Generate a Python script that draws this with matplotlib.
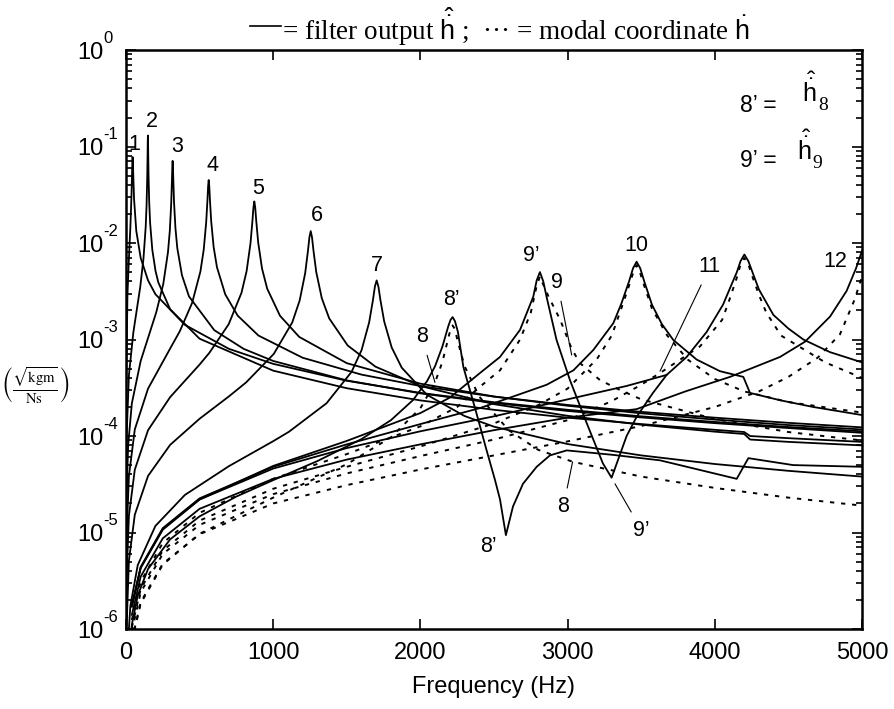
import matplotlib
matplotlib.use('Agg')
import matplotlib.pyplot as plt
from matplotlib.lines import Line2D
from matplotlib.ticker import FixedLocator, LogLocator, NullFormatter

# ---- data (frequency in Hz, magnitude) ----
# solid = filter output, dotted = modal coordinate
f_m1 = [1, 10, 20, 30, 38, 42, 45, 48, 55, 70, 100, 150, 200, 400, 700, 1000, 1500, 2000, 2500, 3000, 3500, 4000, 4500, 5000]
h_m1 = [2.77e-4, 2.9e-3, 6.9e-3, 1.47e-2, 3.31e-2, 5.89e-2, 7.78e-2, 6.05e-2, 2.86e-2, 1.34e-2, 7.0e-3, 4.1e-3, 2.95e-3,
        1.42e-3, 8.0e-4, 5.6e-4, 3.74e-4, 2.8e-4, 2.24e-4, 1.87e-4, 1.6e-4, 1.4e-4, 1.24e-4, 1.12e-4]

f_m2 = [1, 5, 20, 50, 97, 119, 134, 140, 144.5, 146.8, 148, 149, 150, 151.2, 153.5, 158, 164, 179, 201, 220, 300, 500,
        1000, 1500, 2000, 2500, 3000, 3500, 4000, 4200, 4240, 4500, 5000]
h_m2 = [2.1e-5, 1.05e-4, 4.27e-4, 1.18e-3, 3.51e-3, 6.93e-3, 1.468e-2, 2.47e-2, 4.76e-2, 8.08e-2, 0.112, 0.130, 0.112,
        8.16e-2, 4.89e-2, 2.62e-2, 1.62e-2, 8.49e-3, 5.12e-3, 3.9e-3, 2.06e-3, 1.02e-3, 4.76e-4, 3.13e-4, 2.34e-4,
        1.87e-4, 1.55e-4, 1.33e-4, 1.16e-4, 1.1e-4, 1.0e-4, 9.5e-5, 8.7e-5]

f_m3 = [1, 5, 15, 40, 100, 206, 253.6, 285.3, 298, 307.5, 312.2, 314.8, 317, 319.2, 321.8, 326.5, 336, 348.7, 380.4,
        428, 600, 800, 1000, 1500, 2000, 2500, 3000, 3500, 4000, 4500, 5000]
h_m3 = [5.4e-6, 2.7e-5, 8.1e-5, 2.18e-4, 6.0e-4, 1.92e-3, 3.78e-3, 8.02e-3, 1.349e-2, 2.60e-2, 4.41e-2, 6.13e-2, 7.1e-2,
        6.13e-2, 4.46e-2, 2.67e-2, 1.43e-2, 8.85e-3, 4.64e-3, 2.80e-3, 1.25e-3, 8.0e-4, 6.0e-4, 3.77e-4, 2.77e-4,
        2.2e-4, 1.82e-4, 1.56e-4, 1.36e-4, 1.21e-4, 1.08e-4]

f_m4 = [0.5, 5, 20, 60, 150, 300, 365.3, 449.6, 505.8, 528.3, 545.1, 553.6, 558.1, 562, 565.9, 570.4, 578.9, 595.7,
        618.2, 674.4, 758.7, 900, 1200, 1600, 2000, 2500, 3000, 3500, 4000, 4500, 5000]
h_m4 = [9.6e-7, 9.6e-6, 3.85e-5, 1.17e-4, 3.1e-4, 8.06e-4, 1.215e-3, 2.40e-3, 5.08e-3, 8.55e-3, 1.649e-2, 2.80e-2,
        3.88e-2, 4.5e-2, 3.89e-2, 2.82e-2, 1.69e-2, 9.07e-3, 5.61e-3, 2.94e-3, 1.77e-3, 1.1e-3, 6.48e-4, 4.33e-4,
        3.3e-4, 2.56e-4, 2.1e-4, 1.78e-4, 1.55e-4, 1.37e-4, 1.23e-4]

f_m5 = [1, 5, 20, 60, 150, 300, 500, 566.8, 697.6, 784.8, 819.7, 845.8, 858.9, 865.9, 872, 878.1, 885.1, 898.2, 924.3,
        959.2, 1046.4, 1177.2, 1500, 2000, 2500, 3000, 3500, 4000, 4500, 5000]
h_m5 = [7.4e-7, 3.7e-6, 1.49e-5, 4.48e-5, 1.15e-4, 2.53e-4, 5.5e-4, 7.29e-4, 1.44e-3, 3.05e-3, 5.13e-3, 9.90e-3,
        1.679e-2, 2.33e-2, 2.7e-2, 2.33e-2, 1.694e-2, 1.015e-2, 5.44e-3, 3.37e-3, 1.763e-3, 1.064e-3, 5.69e-4,
        3.49e-4, 2.57e-4, 2.06e-4, 1.72e-4, 1.48e-4, 1.3e-4, 1.17e-4]

f_m6 = [4, 20, 60, 150, 300, 500, 700, 815.8, 1004, 1129.5, 1179.7, 1217.4, 1236.2, 1246.2, 1255, 1263.8, 1273.8,
        1292.7, 1330.3, 1380.5, 1506, 1694.3, 2000, 2500, 3000, 3500, 4000, 4200, 4240, 4500, 5000]
h_m6 = [1.0e-6, 5.1e-6, 1.53e-5, 3.86e-5, 8.1e-5, 1.51e-4, 2.58e-4, 3.59e-4, 7.09e-4, 1.502e-3, 2.53e-3, 4.87e-3,
        8.27e-3, 1.148e-2, 1.33e-2, 1.149e-2, 8.35e-3, 5.0e-3, 2.68e-3, 1.658e-3, 8.68e-4, 5.24e-4, 3.3e-4, 2.14e-4,
        1.62e-4, 1.31e-4, 1.11e-4, 1.05e-4, 9.2e-5, 8.7e-5, 8.0e-5]

f_m7 = [10, 30, 80, 200, 400, 700, 1000, 1107, 1362.4, 1532.7, 1600.8, 1651.9, 1677.5, 1691.1, 1703, 1714.9, 1728.5,
        1754.1, 1805.2, 1873.3, 2043.6, 2299, 2500, 3000, 3500, 4000, 4500, 5000]
h_m7 = [5.8e-7, 1.74e-6, 4.6e-6, 1.17e-5, 2.45e-5, 4.88e-5, 8.84e-5, 1.107e-4, 2.185e-4, 4.63e-4, 7.79e-4, 1.503e-3,
        2.55e-3, 3.54e-3, 4.1e-3, 3.54e-3, 2.57e-3, 1.542e-3, 8.27e-4, 5.11e-4, 2.68e-4, 1.615e-4, 1.25e-4, 8.26e-5,
        6.3e-5, 5.13e-5, 4.36e-5, 3.8e-5]

f_m8f = [20, 40, 80, 150, 300, 500, 750, 1000, 1300, 1600, 1800, 1950, 2045, 2100, 2150, 2190, 2205, 2219, 2235, 2255,
         2292, 2382, 2450, 2507, 2541, 2581, 2629, 2697, 2790, 2880, 2994, 3300, 3628, 4149, 4228, 4532, 5000]
h_m8f = [5.6e-7, 1.11e-6, 2.23e-6, 4.19e-6, 8.5e-6, 1.47e-5, 2.36e-5, 3.49e-5, 5.5e-5, 9.3e-5, 1.46e-4, 2.36e-4,
         3.7e-4, 5.3e-4, 8.5e-4, 1.38e-3, 1.6e-3, 1.71e-3, 1.55e-3, 1.2e-3, 5.2e-4, 1.7e-4, 7.1e-5, 3.5e-5, 2.2e-5,
         9.4e-6, 1.86e-5, 3.2e-5, 4.8e-5, 6.3e-5, 7.1e-5, 6.4e-5, 5.6e-5, 3.6e-5, 5.9e-5, 5.0e-5, 4.8e-5]

f_m9f = [40, 100, 250, 500, 1000, 1500, 2000, 2200, 2405, 2541, 2677, 2767, 2790, 2812, 2835, 2857, 2925, 3016, 3130,
         3240, 3299, 3334, 3401, 3469, 3580, 3673]
h_m9f = [1.7e-6, 4.3e-6, 1.07e-5, 2.2e-5, 4.9e-5, 8.9e-5, 1.73e-4, 2.5e-4, 4.5e-4, 6.6e-4, 1.26e-3, 2.78e-3, 4.1e-3,
         5.0e-3, 4.0e-3, 2.78e-3, 9.9e-4, 3.8e-4, 1.36e-4, 5.2e-5, 3.7e-5, 5.2e-5, 1.0e-4, 1.58e-4, 2.8e-4, 4.3e-4]

f_m10f = [40, 100, 250, 500, 1000, 1500, 2000, 2405, 2631, 2858, 3040, 3175, 3311, 3365, 3417, 3445, 3469, 3493, 3521,
          3573, 3640, 3718, 3877, 4035, 4194, 4239, 4443, 4669, 5000]
h_m10f = [1.77e-6, 4.4e-6, 1.11e-5, 2.26e-5, 4.8e-5, 8.2e-5, 1.33e-4, 1.95e-4, 2.57e-4, 3.4e-4, 4.8e-4, 7.8e-4,
          1.48e-3, 2.35e-3, 3.98e-3, 5.5e-3, 6.4e-3, 5.5e-3, 4.0e-3, 2.3e-3, 1.45e-3, 9.9e-4, 6.2e-4, 4.7e-4, 4.1e-4,
          2.8e-4, 2.35e-4, 2.0e-4, 1.65e-4]

f_m11f = [40, 100, 250, 500, 1000, 1500, 2000, 2500, 3000, 3400, 3673, 3809, 3945, 4056, 4110, 4150, 4175, 4201, 4228,
          4260, 4300, 4398, 4500, 4602, 4783, 5000]
h_m11f = [1.74e-6, 4.3e-6, 1.09e-5, 2.2e-5, 4.6e-5, 7.5e-5, 1.12e-4, 1.6e-4, 2.4e-4, 3.3e-4, 4.3e-4, 6.6e-4, 1.2e-3,
          2.3e-3, 3.6e-3, 5.0e-3, 6.5e-3, 7.6e-3, 6.5e-3, 4.8e-3, 3.3e-3, 1.8e-3, 1.3e-3, 1.0e-3, 7.4e-4, 5.8e-4]

f_m12f = [40, 100, 250, 500, 1000, 1500, 2000, 2500, 3000, 3469, 3800, 4103, 4443, 4613, 4783, 4896, 4960, 5000]
h_m12f = [1.4e-6, 3.5e-6, 8.7e-6, 1.76e-5, 3.6e-5, 5.7e-5, 8.2e-5, 1.15e-4, 1.55e-4, 1.9e-4, 2.9e-4, 4.1e-4, 6.6e-4,
          9.5e-4, 1.73e-3, 3.2e-3, 5.5e-3, 8.3e-3]

# modal coordinates (dotted)
f_m8 = [40, 100, 250, 500, 1000, 1500, 1800, 2000, 2100, 2150, 2190, 2205, 2219, 2235, 2250, 2300, 2400, 2600, 2800,
        3037, 3500, 4000, 4500, 5000]
h_m8 = [7.4e-7, 1.84e-6, 4.65e-6, 9.7e-6, 2.3e-5, 5.1e-5, 9.7e-5, 1.94e-4, 3.6e-4, 5.9e-4, 1.04e-3, 1.28e-3, 1.4e-3,
        1.28e-3, 1.01e-3, 5.3e-4, 2.56e-4, 1.15e-4, 7.2e-5, 5.4e-5, 3.8e-5, 2.9e-5, 2.3e-5, 1.9e-5]

f_m9 = [40, 100, 250, 500, 1000, 1500, 2000, 2250, 2400, 2541, 2677, 2750, 2790, 2812, 2835, 2870, 2950, 3028, 3084,
        3220, 3356, 3500, 4000, 4500, 5000]
h_m9 = [1.24e-6, 3.1e-6, 7.8e-6, 1.6e-5, 3.6e-5, 6.5e-5, 1.26e-4, 2.0e-4, 3.2e-4, 4.8e-4, 1.0e-3, 1.9e-3, 3.6e-3,
        4.5e-3, 3.7e-3, 2.8e-3, 1.6e-3, 8.0e-4, 5.7e-4, 3.8e-4, 3.0e-4, 2.4e-4, 1.5e-4, 1.1e-4, 9.0e-5]

f_m10 = [40, 100, 250, 500, 1000, 1500, 2000, 2500, 2800, 3000, 3200, 3300, 3365, 3417, 3445, 3469, 3493, 3521, 3573,
         3677, 3816, 4000, 4200, 4500, 5000]
h_m10 = [1.04e-6, 2.6e-6, 6.5e-6, 1.33e-5, 2.84e-5, 4.8e-5, 7.8e-5, 1.35e-4, 2.09e-4, 3.1e-4, 6.3e-4, 1.1e-3, 2.1e-3,
         3.6e-3, 4.9e-3, 5.9e-3, 4.9e-3, 3.6e-3, 2.1e-3, 1.1e-3, 6.2e-4, 3.9e-4, 2.9e-4, 2.25e-4, 1.75e-4]

f_m11 = [40, 100, 250, 500, 1000, 1500, 2000, 2500, 3000, 3300, 3500, 3628, 3900, 4050, 4100, 4150, 4175, 4201, 4228,
         4260, 4300, 4350, 4450, 4750, 5000]
h_m11 = [9.5e-7, 2.4e-6, 6.0e-6, 1.2e-5, 2.5e-5, 4.1e-5, 6.2e-5, 9.2e-5, 1.46e-4, 2.3e-4, 3.4e-4, 4.5e-4, 8.5e-4,
         1.6e-3, 2.6e-3, 4.4e-3, 6.0e-3, 7.0e-3, 6.0e-3, 4.3e-3, 2.9e-3, 1.9e-3, 1.1e-3, 5.8e-4, 4.0e-4]

f_m12 = [40, 100, 250, 500, 1000, 1500, 2000, 2500, 3000, 3500, 4000, 4300, 4500, 4700, 4850, 4950, 5000]
h_m12 = [7.6e-7, 1.9e-6, 4.75e-6, 9.6e-6, 2.0e-5, 3.1e-5, 4.5e-5, 6.3e-5, 8.8e-5, 1.27e-4, 2.0e-4, 2.9e-4, 4.1e-4,
         6.5e-4, 1.13e-3, 2.6e-3, 4.5e-3]

# peak labels: text, frequency, magnitude
peak_labels = ['1', '2', '3', '4', '5', '6', '7', '8\u2019', '9\u2019', '10', '12', '8\u2019']
peak_label_f = [57, 174, 349, 589, 899, 1295, 1703, 2212, 2756, 3465, 4817, 2461]
peak_label_h = [0.106, 0.181, 0.0995, 0.0643, 0.0369, 0.0195, 5.9e-3, 2.57e-3, 7.5e-3, 9.5e-3, 6.4e-3, 7.1e-6]

# pointer labels: text, text position, tip position
ptr_labels = ['8', '9', '11', '8', '9\u2019']
ptr_text_f = [2009, 2930, 3967, 2971, 3503]
ptr_text_h = [1.07e-3, 3.9e-3, 5.7e-3, 1.85e-5, 1.06e-5]
ptr_tip_f = [2099, 3028, 3628, 3034, 3322]
ptr_tip_h = [3.6e-4, 6.9e-4, 4.7e-4, 5.4e-5, 3.2e-5]

x_ticks = [0, 1000, 2000, 3000, 4000, 5000]
y_exps = [-6, -5, -4, -3, -2, -1, 0]

plt.rcParams['font.family'] = ['Liberation Sans', 'DejaVu Sans']
plt.rcParams['mathtext.fontset'] = 'custom'
plt.rcParams['mathtext.rm'] = 'Liberation Sans'
plt.rcParams['mathtext.it'] = 'Liberation Sans:italic'
plt.rcParams['mathtext.bf'] = 'Liberation Sans:bold'

fig = plt.figure(figsize=(8.94, 7.09), dpi=100)
ax = fig.add_axes([0.1409, 0.1128, 0.8233, 0.8166])

solid = [(f_m1, h_m1), (f_m2, h_m2), (f_m3, h_m3), (f_m4, h_m4), (f_m5, h_m5), (f_m6, h_m6), (f_m7, h_m7),
         (f_m8f, h_m8f), (f_m9f, h_m9f), (f_m10f, h_m10f), (f_m11f, h_m11f), (f_m12f, h_m12f)]
dotted = [(f_m8, h_m8), (f_m9, h_m9), (f_m10, h_m10), (f_m11, h_m11), (f_m12, h_m12)]

for f, h in dotted:
    ax.plot(f, h, color='black', lw=1.4, ls=(0, (2.2, 3.5)))
for f, h in solid:
    ax.plot(f, h, color='black', lw=1.3)

ax.set_yscale('log')
ax.set_xlim(0, 5000)
ax.set_ylim(1e-6, 1)

ax.xaxis.set_major_locator(FixedLocator(x_ticks))
ax.set_xticklabels([str(t) for t in x_ticks])
ax.yaxis.set_major_locator(FixedLocator([10.0 ** e for e in y_exps]))
ax.set_yticklabels(['10' for e in y_exps])
ax.yaxis.set_minor_locator(LogLocator(base=10, subs=range(2, 10)))
ax.yaxis.set_minor_formatter(NullFormatter())

ax.tick_params(which='both', direction='in', top=True, right=True, width=1.2)
ax.tick_params(which='major', length=7, labelsize=17)
ax.tick_params(axis='x', pad=9)
ax.tick_params(axis='y', pad=16)
ax.tick_params(which='minor', length=4)
for s in ax.spines.values():
    s.set_linewidth(1.8)

# exponents of the y tick labels (plain hyphen, like the original)
for e in y_exps:
    ax.annotate(str(e), xy=(0, 10.0 ** e), xycoords=('axes fraction', 'data'), xytext=(-16.5, 8.5),
                textcoords='offset points', ha='left', va='center', fontsize=12, annotation_clip=False)

ax.set_xlabel('Frequency (Hz)', fontsize=17, labelpad=9)

for t, f, h in zip(peak_labels, peak_label_f, peak_label_h):
    ax.text(f, h, t, ha='center', va='center', fontsize=15.5)

for t, tf, th, pf, ph in zip(ptr_labels, ptr_text_f, ptr_text_h, ptr_tip_f, ptr_tip_h):
    ax.annotate(t, xy=(pf, ph), xytext=(tf, th), ha='center', va='center', fontsize=15.5,
                arrowprops=dict(arrowstyle='-', lw=0.8, color='black', shrinkA=4, shrinkB=0))

# equations in the upper right
hat_h = r'$\hat{\dot{\mathrm{h}}}$'
ax.text(4171, 0.2295, '8\u2019 =', ha='left', va='baseline', fontsize=16.5)
ax.text(4590, 0.291, hat_h, ha='left', va='baseline', fontsize=18)
ax.text(4700, 0.239, '8', ha='left', va='baseline', fontsize=14, family='Liberation Serif')
ax.text(4171, 0.0618, '9\u2019 =', ha='left', va='baseline', fontsize=16.5)
ax.text(4556, 0.0724, hat_h, ha='left', va='baseline', fontsize=18)
ax.text(4666, 0.0599, '9', ha='left', va='baseline', fontsize=14, family='Liberation Serif')

# title / legend line
fig.add_artist(Line2D([250 / 894, 281 / 894], [1 - 26 / 709, 1 - 26 / 709], color='black', lw=1.2))
fig.text(282 / 894, 1 - 27 / 709,
         '= filter output ' + r'$\hat{\dot{\mathrm{h}}}$' + ' ;  \u00b7\u00b7\u00b7 = modal coordinate ' +
         r'$\dot{\mathrm{h}}$',
         ha='left', va='center', fontsize=19.5, family='Liberation Serif')

# y label
fig.text(0.039, 1 - 386 / 709, r'$\left(\frac{\sqrt{\mathrm{kgm}}}{\mathrm{Ns}}\right)$',
         ha='center', va='center', fontsize=15, math_fontfamily='stix')

fig.savefig('out.png', dpi=100)
